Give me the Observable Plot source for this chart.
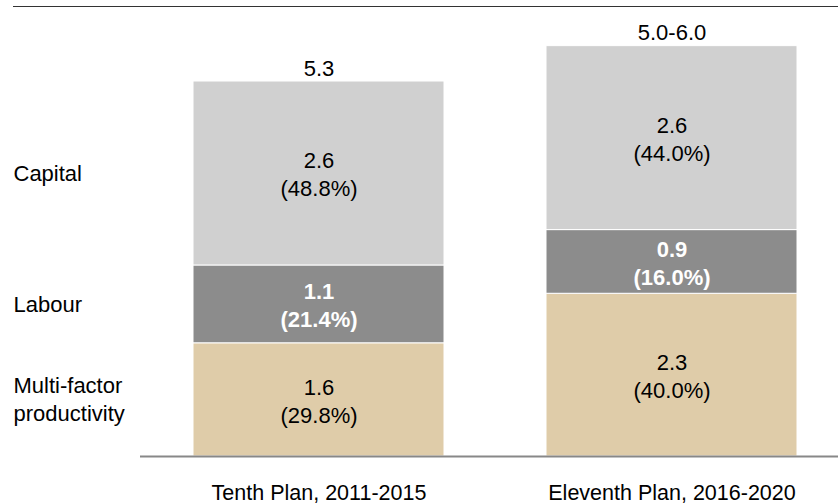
<!DOCTYPE html>
<html>
<head>
<meta charset="utf-8">
<script src="https://cdn.jsdelivr.net/npm/d3@7"></script>
<script src="https://cdn.jsdelivr.net/npm/@observablehq/plot@0.6"></script>
<style>
  html, body { margin: 0; padding: 0; background: #fff; }
  #wrap { position: relative; width: 838px; height: 504px; font-family: "Liberation Sans", Arial, sans-serif; }
  #topline { position: absolute; top: 6px; left: 13px; right: 0; border-top: 1px solid #333; }
</style>
</head>
<body>
<div id="wrap"><div id="topline"></div></div>
<script>
const categories = ["Tenth Plan, 2011-2015", "Eleventh Plan, 2016-2020"];
const components = ["Multi-factor productivity", "Labour", "Capital"];
const componentLabels = ["Multi-factor\nproductivity", "Labour", "Capital"];
const mfp = [1.6, 2.3];
const labour = [1.1, 0.9];
const capital = [2.6, 2.6];
const mfpShare = ["29.8%", "40.0%"];
const labourShare = ["21.4%", "16.0%"];
const capitalShare = ["48.8%", "44.0%"];
const totalLabels = ["5.3", "5.0-6.0"];
const colors = ["#dfcca9", "#8c8c8c", "#d0d0d0"];

const seriesValues = [mfp, labour, capital];
const seriesShares = [mfpShare, labourShare, capitalShare];

const rows = [];
const totals = [];
categories.forEach((cat, i) => {
  let base = 0;
  components.forEach((comp, j) => {
    const v = seriesValues[j][i];
    rows.push({
      plan: cat, component: comp, value: v,
      y1: base, y2: base + v, mid: base + v / 2,
      label: v.toFixed(1) + "\n(" + seriesShares[j][i] + ")",
      compLabel: componentLabels[j], first: i === 0
    });
    base += v;
  });
  totals.push({plan: cat, total: base, label: totalLabels[i]});
});

const chart = Plot.plot({
  width: 838,
  height: 504,
  marginLeft: 140,
  marginRight: 0,
  marginTop: 0,
  marginBottom: 48,
  style: {fontFamily: "'Liberation Sans', Arial, sans-serif", fontSize: "22px", color: "#000", background: "transparent"},
  x: {domain: categories, paddingInner: 0.29, paddingOuter: 0.131, align: 0.561, label: null, axis: null},
  y: {domain: [0, 6.445], axis: null},
  color: {domain: components, range: colors},
  marks: [
    Plot.rectY(rows, {x: "plan", y1: "y1", y2: "y2", fill: "component", stroke: "white", strokeWidth: 1}),
    Plot.ruleY([0], {stroke: "#888", strokeWidth: 2}),
    Plot.axisX({tickSize: 0, tickPadding: 28, fontSize: 21.5, fill: "#000", label: null}),
    Plot.text(rows.filter(d => d.component !== "Labour"), {x: "plan", y: "mid", text: "label", fontSize: 22, lineHeight: 1.27, fill: "#000"}),
    Plot.text(rows.filter(d => d.component === "Labour"), {x: "plan", y: "mid", text: "label", fontSize: 22, lineHeight: 1.27, fill: "white", fontWeight: "bold"}),
    Plot.text(totals, {x: "plan", y: "total", text: "label", fontSize: 22, lineAnchor: "bottom", dy: -6, fill: "#000"}),
    Plot.text(rows.filter(d => d.first), {y: "mid", text: "compLabel", frameAnchor: "left", dx: -127, dy: -2, textAnchor: "start", fontSize: 22, lineHeight: 1.3, fill: "#000"})
  ]
});
document.getElementById("wrap").appendChild(chart);
</script>
</body>
</html>
